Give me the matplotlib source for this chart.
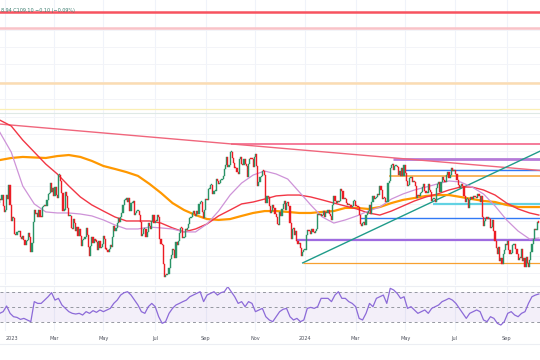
import numpy as np
import pandas as pd
import matplotlib
matplotlib.use("Agg")
import matplotlib.pyplot as plt

# ---------------- data (daily closes) ----------------
dec22 = [104.27, 104.22, 104.49, 103.86, 103.52]
jan23 = [103.62, 104.52, 104.25, 105.04, 103.89, 103.01, 103.24, 103.19, 102.23, 102.20, 102.37,
         102.39, 102.40, 102.07, 101.99, 102.11, 101.92, 101.63, 101.83, 101.92, 102.28, 102.10]
feb23 = [101.21, 101.75, 102.92, 103.62, 103.42, 103.43, 103.24, 103.63, 103.23, 103.21, 103.81,
         103.85, 103.87, 103.86, 104.20, 104.57, 104.61, 105.21, 104.66, 104.87]
mar23 = [104.45, 104.97, 104.52, 104.31, 105.62, 105.66, 105.27, 104.58, 103.60, 103.63, 104.64,
         104.42, 103.72, 103.28, 103.29, 102.57, 102.53, 103.12, 102.86, 102.44, 102.64, 102.15, 102.51]
apr23 = [102.15, 101.56, 101.92, 101.94, 102.08, 102.57, 102.21, 101.51, 101.00, 101.55, 102.08,
         101.75, 101.98, 101.85, 101.82, 101.33, 101.86, 101.47, 101.48, 101.66]
may23 = [102.15, 101.97, 101.38, 101.36, 101.22, 101.39, 101.62, 101.48, 102.07, 102.69, 102.43,
         102.58, 102.86, 103.18, 102.92, 103.20, 103.48, 103.89, 104.20, 104.20, 104.31, 104.09, 104.33]
jun23 = [103.57, 104.02, 104.03, 104.12, 103.37, 103.44, 103.56, 103.59, 103.34, 102.94, 102.12,
         102.27, 102.52, 102.53, 102.08, 102.38, 102.90, 102.71, 102.54, 102.99, 103.37, 102.91]
jul23 = [102.99, 102.98, 103.36, 103.20, 101.95, 101.69, 101.61, 100.53, 99.77, 99.92, 99.91,
         99.94, 100.32, 100.83, 101.07, 101.38, 101.33, 100.89, 101.80, 101.62, 101.86]
aug23 = [102.28, 102.62, 102.58, 102.02, 102.08, 102.54, 102.49, 102.61, 102.84, 103.15, 103.20,
         103.43, 103.58, 103.39, 103.31, 103.56, 103.41, 103.96, 104.08, 104.09, 103.51, 103.15, 103.62]
sep23 = [104.24, 104.22, 104.82, 104.84, 105.07, 105.07, 104.56, 104.70, 104.73, 105.40, 105.32,
         105.12, 105.20, 105.36, 105.39, 105.58, 106.00, 106.21, 106.68, 106.11, 106.22]
oct23 = [106.95, 106.99, 106.63, 106.35, 106.04, 106.03, 105.79, 105.72, 106.55, 106.65, 106.25,
         106.19, 106.58, 106.28, 106.16, 105.54, 106.28, 106.59, 106.57, 106.56, 106.08, 106.66]
nov23 = [106.87, 106.17, 105.02, 105.24, 105.53, 105.58, 105.90, 105.87, 105.65, 104.06, 104.42,
         104.38, 103.87, 103.45, 103.58, 103.92, 103.76, 103.40, 103.21, 102.82, 102.77, 103.50]
dec23 = [103.27, 103.68, 103.98, 104.12, 103.62, 104.01, 104.08, 103.88, 102.88, 101.97, 102.55,
         102.57, 102.19, 102.40, 101.84, 101.70, 101.71, 101.47, 100.98, 101.23, 101.33]
jan24 = [101.35, 102.20, 102.47, 102.43, 102.41, 102.23, 102.55, 102.36, 102.29, 102.40, 102.52,
         103.38, 103.35, 103.41, 103.29, 103.33, 103.60, 103.24, 103.54, 103.43, 103.61, 103.40, 103.27]
feb24 = [103.06, 103.92, 104.45, 104.12, 104.05, 104.14, 104.11, 104.15, 104.86, 104.72, 104.28,
         104.29, 104.26, 104.06, 103.91, 103.96, 103.94, 103.82, 103.86, 104.15, 104.16]
mar24 = [103.88, 103.86, 103.82, 103.34, 102.83, 102.72, 102.87, 102.95, 102.79, 103.36, 103.43,
         103.58, 103.91, 103.40, 104.07, 104.43, 104.28, 104.32, 104.35, 104.55, 104.50]
apr24 = [105.02, 104.79, 104.26, 104.31, 104.30, 104.11, 104.11, 105.20, 105.27, 106.04, 106.19,
         106.26, 105.94, 106.15, 106.15, 106.10, 105.67, 105.85, 105.60, 106.06, 105.59, 106.22]
may24 = [105.74, 105.28, 105.03, 105.07, 105.45, 105.54, 105.23, 105.30, 105.22, 104.99, 104.34,
         104.51, 104.46, 104.63, 104.64, 104.93, 105.12, 104.72, 104.60, 104.61, 105.11, 104.76, 104.67]
jun24 = [104.14, 104.25, 104.27, 104.10, 104.89, 105.15, 105.25, 104.69, 105.22, 105.55, 105.33,
         105.26, 105.23, 105.63, 105.80, 105.48, 105.64, 106.04, 105.86, 105.87]
jul24 = [105.91, 105.72, 105.38, 105.09, 104.88, 105.01, 105.12, 105.03, 104.42, 104.09, 104.25,
         104.25, 103.77, 104.19, 104.40, 104.28, 104.46, 104.39, 104.35, 104.32, 104.57, 104.42, 104.10]
aug24 = [104.41, 103.21, 102.70, 102.97, 103.19, 103.14, 103.14, 103.13, 102.62, 102.63, 103.03,
         102.45, 101.86, 101.42, 101.10, 101.50, 100.68, 100.86, 100.54, 101.09, 101.34, 101.70]
sep24 = [101.63, 101.83, 101.36, 101.10, 101.18, 101.63, 101.63, 101.65, 101.37, 101.10, 100.75,
         100.89, 100.87, 101.37, 100.72, 100.87, 100.35, 100.91, 100.58, 100.38, 100.78]
oct24 = [101.20, 101.68, 101.99, 102.52, 102.48, 102.50, 102.92, 102.91]
first_open = 104.05

# moving averages, sampled every 10 bars (+ last bar)
ma_fast = [108.11, 106.96, 105.01, 103.98, 103.52, 103.46, 103.46, 103.40, 103.29, 103.06,
           102.77, 102.54, 102.54, 102.65, 102.60, 102.54, 102.37, 102.37, 102.83, 103.57,
           104.49, 105.18, 105.64, 105.87, 105.70, 105.41, 104.67, 103.92, 103.23, 102.88,
           103.06, 103.29, 103.57, 103.80, 104.26, 104.55, 104.78, 104.95, 105.13, 105.30,
           105.24, 104.95, 104.55, 103.86, 103.06, 102.42, 101.96, 102.02]
ma_mid = [108.80, 108.46, 107.65, 106.96, 106.27, 105.70, 105.01, 104.38, 103.92, 103.57,
          103.23, 103.00, 103.00, 103.00, 102.88, 102.60, 102.37, 102.54, 102.83, 103.29,
          103.63, 103.98, 104.09, 104.26, 104.44, 104.49, 104.49, 104.38, 104.21, 104.03,
          103.86, 103.69, 103.46, 103.34, 103.57, 103.86, 104.15, 104.38, 104.55, 104.78,
          104.95, 104.95, 104.78, 104.49, 104.03, 103.69, 103.46, 103.34]
ma_slow = [106.50, 106.62, 106.68, 106.65, 106.62, 106.73, 106.79, 106.68, 106.45, 106.16,
           105.99, 105.81, 105.59, 105.13, 104.61, 104.03, 103.63, 103.34, 103.11, 103.06,
           103.11, 103.29, 103.46, 103.57, 103.57, 103.52, 103.46, 103.46, 103.52, 103.57,
           103.75, 103.75, 103.69, 103.80, 104.03, 104.21, 104.32, 104.44, 104.49, 104.49,
           104.38, 104.26, 104.15, 104.09, 103.92, 103.80, 103.80, 103.80]

# RSI, sampled every 3 bars
rsi = [41.7, 43.9, 51.3, 41.7, 37.3, 36.4, 33.8, 35.1, 32.9, 30.8, 57.0, 54.7, 54.7, 59.0, 63.4, 68.7,
       59.0, 61.3, 52.6, 48.2, 43.9, 41.7, 40.8, 41.7, 39.5, 43.9, 41.7, 45.2, 43.0, 46.1, 43.9, 46.1,
       48.2, 54.7, 59.0, 65.6, 68.7, 70.0, 65.6, 59.0, 52.6, 43.9, 41.7,
       50.4, 54.7, 50.4, 37.3, 28.6, 30.8, 41.7, 48.2, 52.6, 54.7, 57.0, 59.0, 63.4, 65.6, 67.8, 70.0,
       57.0, 65.6, 67.8, 70.0, 65.6, 68.7, 70.0, 76.5, 70.0, 63.4,
       54.7, 57.0, 50.4, 57.0, 54.7, 43.9, 46.1, 48.2, 37.3,
       33.0, 30.8, 37.3, 43.9, 47.0, 48.2, 37.3, 33.0, 35.1, 30.8, 33.0, 48.2, 49.5, 48.2, 50.4, 61.3, 61.3,
       61.3, 57.0, 65.6, 70.0, 61.3, 61.3, 57.0, 54.7, 50.4, 35.1, 33.0, 41.7, 54.7, 50.4, 61.3, 63.4,
       65.6, 54.7, 74.4, 72.2, 67.8, 61.3, 63.4, 48.2, 50.4, 46.1,
       41.7, 43.9, 46.1, 41.7, 48.2, 50.4, 52.6, 57.0, 59.0, 61.3, 59.0, 54.7, 48.2, 41.7, 35.1, 41.7,
       43.9, 46.1, 43.9, 33.0, 30.8, 37.3, 35.1, 28.6, 26.4, 30.8, 41.7,
       43.9, 39.5, 37.3, 41.7, 43.9, 54.7, 63.4, 65.6, 67.0]

# horizontal levels across the whole chart
full_levels = [115.00, 114.09, 110.93, 109.41, 109.21]
full_colors = ["#f7525f", "#f9c3c8", "#fbdcb2", "#fbefb4", "#dfe9e5"]
full_widths = [1.8, 1.8, 1.8, 0.9, 0.8]
# horizontal levels drawn from a date to the right edge
ray_levels = [107.44, 106.56, 105.93, 105.59, 103.98, 103.17, 101.88, 100.57]
ray_starts = ["2023-10-03", "2024-04-16", "2024-05-01", "2024-04-11", "2024-06-04",
              "2024-03-07", "2023-12-20", "2023-12-28"]
ray_colors = ["#f2577f", "#b57bd8", "#3179f5", "#f7a030", "#62d2e3", "#3179f5", "#9f6be0", "#f7a030"]
ray_widths = [1.1, 2.0, 1.0, 1.1, 1.6, 1.0, 1.6, 0.9]
# trend lines (two anchor points each)
trend_dates = [["2022-12-26", "2024-10-10"], ["2023-12-28", "2024-10-10"]]
trend_values = [[108.57, 105.91], [100.59, 106.98]]
trend_colors = ["#f0667c", "#1f9b8a"]

tick_months = ["2023-01", "2023-03", "2023-05", "2023-07", "2023-09", "2023-11",
               "2024-01", "2024-03", "2024-05", "2024-07", "2024-09"]
tick_labels = ["2023", "Mar", "May", "Jul", "Sep", "Nov", "2024", "Mar", "May", "Jul", "Sep"]
header = "8.94 C109.10 \u22120.10 (\u22120.09%)"

# ---------------- build ----------------
closes = np.array(dec22 + jan23 + feb23 + mar23 + apr23 + may23 + jun23 + jul23 + aug23 + sep23
                  + oct23 + nov23 + dec23 + jan24 + feb24 + mar24 + apr24 + may24 + jun24 + jul24
                  + aug24 + sep24 + oct24)
dates = pd.bdate_range("2022-12-26", "2024-10-10")
n = min(len(dates), len(closes))
dates = dates[:n]
closes = closes[:n]
opens = np.r_[first_open, closes[:-1]]
x = np.arange(n)


def xi(d):
    return int(dates.searchsorted(pd.Timestamp(d)))


fig = plt.figure(figsize=(5.4, 3.6), dpi=100)
fig.patch.set_facecolor("white")
ax = fig.add_axes([0, 1 - 285 / 360, 1, 285 / 360])
ax_r = fig.add_axes([0, 1 - 331 / 360, 1, 45 / 360], sharex=ax)

xl = (0.26, 469.0)
ax.set_xlim(*xl)
ax.set_ylim(99.32, 115.7)
ax_r.set_ylim(18.6, 77.45)

tick_pos = [xi(m + "-01") for m in tick_months]
for a in (ax, ax_r):
    a.set_facecolor("white")
    for s in a.spines.values():
        s.set_visible(False)
    for t in tick_pos:
        a.axvline(t, color="#f0f3fa", lw=0.8, zorder=0)
ax.tick_params(left=False, labelleft=False, bottom=False, labelbottom=False)
ax_r.tick_params(left=False, labelleft=False, length=0, pad=3.5, labelsize=3.6, labelcolor="#50535e")
ax_r.set_xticks(tick_pos)
ax_r.set_xticklabels(tick_labels)
first_lbl = ax_r.get_xticklabels()[0]
first_lbl.set_horizontalalignment("left")

# horizontal grid
for g in np.arange(100, 116, 1.0):
    ax.axhline(g, color="#f3f4f8", lw=0.7, zorder=0)

# levels
for lv, c, w in zip(full_levels, full_colors, full_widths):
    ax.axhline(lv, color=c, lw=w, zorder=1)
for lv, d, c, w in zip(ray_levels, ray_starts, ray_colors, ray_widths):
    ax.plot([xi(d), xl[1]], [lv, lv], color=c, lw=w, zorder=2, solid_capstyle="butt")
for ds, vs, c in zip(trend_dates, trend_values, trend_colors):
    xs = [xi(ds[0]), xi(ds[1])]
    slope = (vs[1] - vs[0]) / (xs[1] - xs[0])
    xe = xl[1]
    ax.plot([xs[0], xe], [vs[0], vs[0] + slope * (xe - xs[0])], color=c, lw=1.0, zorder=2)

# moving averages
ma_x = np.r_[np.arange(0, 461, 10), n - 1]
ax.plot(ma_x, ma_slow, color="#ff9800", lw=1.6, zorder=3)
ax.plot(ma_x, ma_mid, color="#f23645", lw=1.0, zorder=3)
ax.plot(ma_x, ma_fast, color="#ce93d8", lw=0.9, zorder=3)

# candles
up = closes >= opens
body_lo = np.minimum(opens, closes)
body_h = np.maximum(np.abs(closes - opens), 0.06)
cols = np.where(up, "#2a9366", "#ec1c24")
ax.bar(x, body_h, bottom=body_lo, width=1.0, color=cols, edgecolor=cols, linewidth=0.3, zorder=4)

# RSI pane
ax_r.fill_between(xl, 30, 70, color="#7e57c2", alpha=0.09, lw=0, zorder=0)
for lv in (70, 50, 30):
    ax_r.axhline(lv, color="#9598a1", lw=0.7, ls=(0, (3, 3)), zorder=1)
rsi_x = np.arange(0, n, 3)[:len(rsi)]
ax_r.plot(rsi_x, rsi[:len(rsi_x)], color="#8c6ad8", lw=0.9, zorder=2)

# separators
fig.add_artist(plt.Line2D([0, 1], [1 - 285.5 / 360] * 2, color="#eceef3", lw=0.8))
fig.add_artist(plt.Line2D([0, 1], [1 - 344 / 360] * 2, color="#eceef3", lw=0.8))

fig.text(0.001, 1 - 10.5 / 360, header, fontsize=3.5, color="#3d7f70", va="center", ha="left")

fig.savefig("out.png", dpi=100, facecolor="white")
